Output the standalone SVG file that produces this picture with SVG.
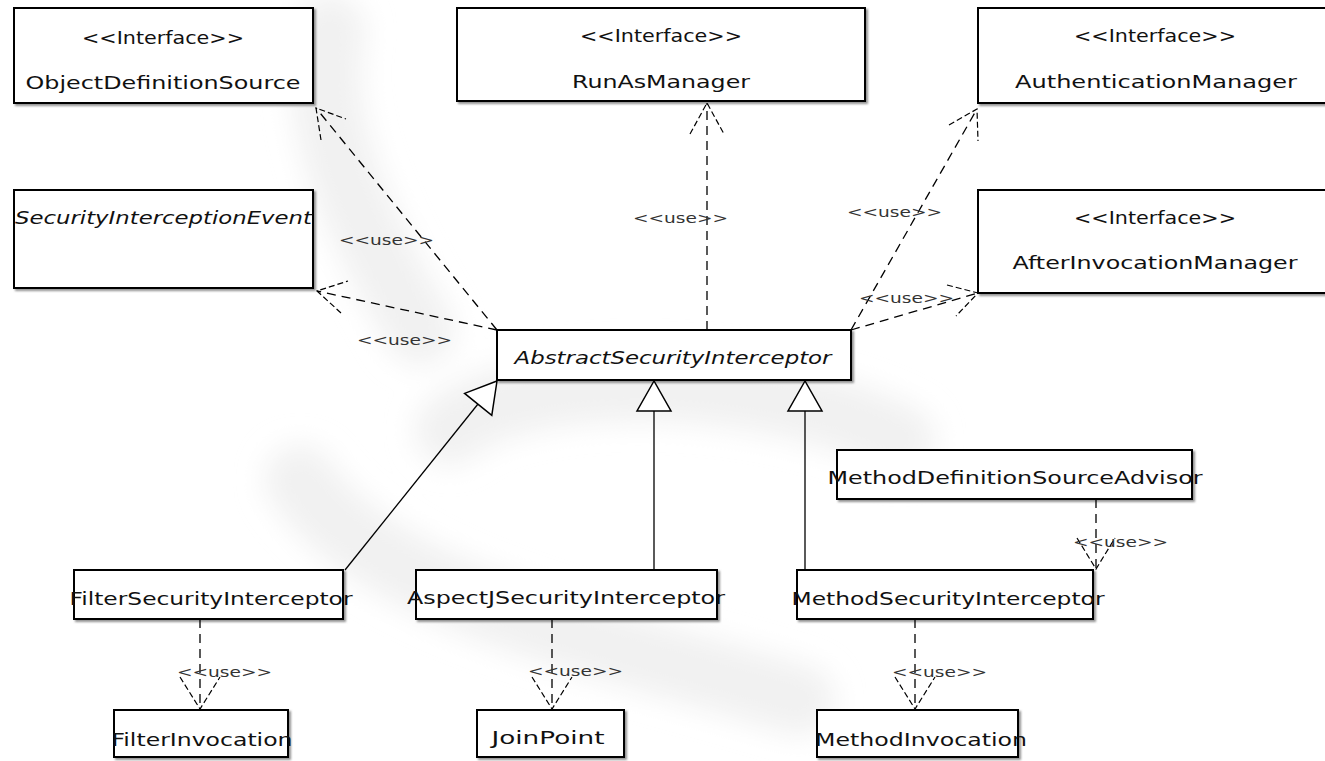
<svg xmlns="http://www.w3.org/2000/svg" width="1325" height="761" viewBox="0 0 1325 761">
<defs>
<filter id="sh" x="-5%" y="-5%" width="115%" height="130%">
<feDropShadow dx="2" dy="2" stdDeviation="1" flood-color="#777" flood-opacity="0.8"/>
</filter>
<filter id="blur" x="-20%" y="-20%" width="140%" height="140%">
<feGaussianBlur stdDeviation="14"/>
</filter>
<style>
.box{fill:#fff;stroke:#000;stroke-width:2;filter:url(#sh)}
.t{font-family:"DejaVu Sans","Liberation Sans",sans-serif;font-size:18px;fill:#111;text-anchor:middle}
.ti{font-style:italic}
.u{font-family:"DejaVu Sans","Liberation Sans",sans-serif;font-size:14px;fill:#333;text-anchor:start}
.d{fill:none;stroke:#000;stroke-width:1.3;stroke-dasharray:9 6}
.w{fill:none;stroke:#000;stroke-width:1.2;stroke-dasharray:6 3}
.s{fill:none;stroke:#000;stroke-width:1.3}
.tri{fill:#fff;stroke:#000;stroke-width:1.5}
</style>
</defs>
<rect width="1325" height="761" fill="#fff"/>
<g id="watermark" fill="none" stroke="#f1f1f1" stroke-linecap="round" filter="url(#blur)">
<path d="M330 30 C310 120 360 230 420 330" stroke-width="70"/>
<path d="M450 430 C520 370 760 370 900 440" stroke-width="70"/>
<path d="M300 480 C380 600 600 640 800 700" stroke-width="70"/>
</g>
<g id="ObjectDefinitionSource">
<rect class="box" x="14" y="8" width="299" height="95"/>
<text class="t" x="163" y="44" textLength="162" lengthAdjust="spacingAndGlyphs">&lt;&lt;Interface&gt;&gt;</text>
<text class="t" x="163" y="89" textLength="275" lengthAdjust="spacingAndGlyphs">ObjectDefinitionSource</text>
</g>
<g id="RunAsManager">
<rect class="box" x="457" y="8" width="408" height="93"/>
<text class="t" x="661" y="42" textLength="162" lengthAdjust="spacingAndGlyphs">&lt;&lt;Interface&gt;&gt;</text>
<text class="t" x="661" y="88" textLength="178" lengthAdjust="spacingAndGlyphs">RunAsManager</text>
</g>
<g id="AuthenticationManager">
<rect class="box" x="978" y="8" width="356" height="95"/>
<text class="t" x="1155" y="42" textLength="162" lengthAdjust="spacingAndGlyphs">&lt;&lt;Interface&gt;&gt;</text>
<text class="t" x="1156" y="88" textLength="282" lengthAdjust="spacingAndGlyphs">AuthenticationManager</text>
</g>
<g id="SecurityInterceptionEvent">
<rect class="box" x="14" y="190" width="299" height="98"/>
<text class="t ti" x="15" y="224" style="text-anchor:start" textLength="297" lengthAdjust="spacingAndGlyphs">SecurityInterceptionEvent</text>
</g>
<g id="AfterInvocationManager">
<rect class="box" x="978" y="190" width="356" height="103"/>
<text class="t" x="1155" y="224" textLength="162" lengthAdjust="spacingAndGlyphs">&lt;&lt;Interface&gt;&gt;</text>
<text class="t" x="1155" y="269" textLength="285" lengthAdjust="spacingAndGlyphs">AfterInvocationManager</text>
</g>
<g id="AbstractSecurityInterceptor">
<rect class="box" x="497" y="330" width="354" height="50"/>
<text class="t ti" x="673" y="364" textLength="317" lengthAdjust="spacingAndGlyphs">AbstractSecurityInterceptor</text>
</g>
<g id="MethodDefinitionSourceAdvisor">
<rect class="box" x="837" y="450" width="355" height="49"/>
<text class="t" x="1015" y="484" textLength="375" lengthAdjust="spacingAndGlyphs">MethodDefinitionSourceAdvisor</text>
</g>
<g id="FilterSecurityInterceptor">
<rect class="box" x="74" y="570" width="269" height="49"/>
<text class="t" x="211" y="605" textLength="283" lengthAdjust="spacingAndGlyphs">FilterSecurityInterceptor</text>
</g>
<g id="AspectJSecurityInterceptor">
<rect class="box" x="416" y="570" width="301" height="49"/>
<text class="t" x="566" y="604" textLength="318" lengthAdjust="spacingAndGlyphs">AspectJSecurityInterceptor</text>
</g>
<g id="MethodSecurityInterceptor">
<rect class="box" x="797" y="570" width="296" height="49"/>
<text class="t" x="948" y="605" textLength="313" lengthAdjust="spacingAndGlyphs">MethodSecurityInterceptor</text>
</g>
<g id="FilterInvocation">
<rect class="box" x="114" y="710" width="174" height="47"/>
<text class="t" x="202" y="746" textLength="181" lengthAdjust="spacingAndGlyphs">FilterInvocation</text>
</g>
<g id="JoinPoint">
<rect class="box" x="477" y="710" width="147" height="47"/>
<text class="t" x="548" y="744" textLength="113" lengthAdjust="spacingAndGlyphs">JoinPoint</text>
</g>
<g id="MethodInvocation">
<rect class="box" x="817" y="710" width="201" height="47"/>
<text class="t" x="921" y="746" textLength="212" lengthAdjust="spacingAndGlyphs">MethodInvocation</text>
</g>
<g id="connectors">
<path class="d" d="M497 330 L316 108"/>
<path class="w" d="M321 140 L316 108 L346 119"/>
<text class="u" x="339" y="245" textLength="95" lengthAdjust="spacingAndGlyphs">&lt;&lt;use&gt;&gt;</text>
<path class="d" d="M497 330 L317 291"/>
<path class="w" d="M341 313 L317 291 L348 281"/>
<text class="u" x="357" y="345" textLength="95" lengthAdjust="spacingAndGlyphs">&lt;&lt;use&gt;&gt;</text>
<path class="d" d="M707 330 L707 103"/>
<path class="w" d="M690 134 L707 103 L724 134"/>
<text class="u" x="633" y="223" textLength="95" lengthAdjust="spacingAndGlyphs">&lt;&lt;use&gt;&gt;</text>
<path class="d" d="M851 330 L977 109"/>
<path class="w" d="M949 125 L977 109 L978 141"/>
<text class="u" x="847" y="217" textLength="95" lengthAdjust="spacingAndGlyphs">&lt;&lt;use&gt;&gt;</text>
<path class="d" d="M851 330 L978 293"/>
<path class="w" d="M947 285 L978 293 L956 316"/>
<text class="u" x="859" y="303" textLength="95" lengthAdjust="spacingAndGlyphs">&lt;&lt;use&gt;&gt;</text>
<path class="d" d="M200 619 L200 709"/>
<path class="w" d="M180 677 L200 709 L220 677"/>
<text class="u" x="177" y="677" textLength="95" lengthAdjust="spacingAndGlyphs">&lt;&lt;use&gt;&gt;</text>
<path class="d" d="M552 619 L552 709"/>
<path class="w" d="M532 677 L552 709 L572 677"/>
<text class="u" x="528" y="676" textLength="95" lengthAdjust="spacingAndGlyphs">&lt;&lt;use&gt;&gt;</text>
<path class="d" d="M915 619 L915 709"/>
<path class="w" d="M895 677 L915 709 L935 677"/>
<text class="u" x="892" y="677" textLength="95" lengthAdjust="spacingAndGlyphs">&lt;&lt;use&gt;&gt;</text>
<path class="d" d="M1096 499 L1096 569"/>
<path class="w" d="M1077 538 L1096 569 L1115 538"/>
<text class="u" x="1073" y="547" textLength="95" lengthAdjust="spacingAndGlyphs">&lt;&lt;use&gt;&gt;</text>
<path class="s" d="M345 570 L478 404"/>
<polygon class="tri" points="497,381 491.8,415.4 464.6,393.4"/>
<path class="s" d="M654 570 L654 411"/>
<polygon class="tri" points="654,381 637,411 671,411"/>
<path class="s" d="M805 570 L805 411"/>
<polygon class="tri" points="805,381 788,411 822,411"/>
</g>
</svg>
